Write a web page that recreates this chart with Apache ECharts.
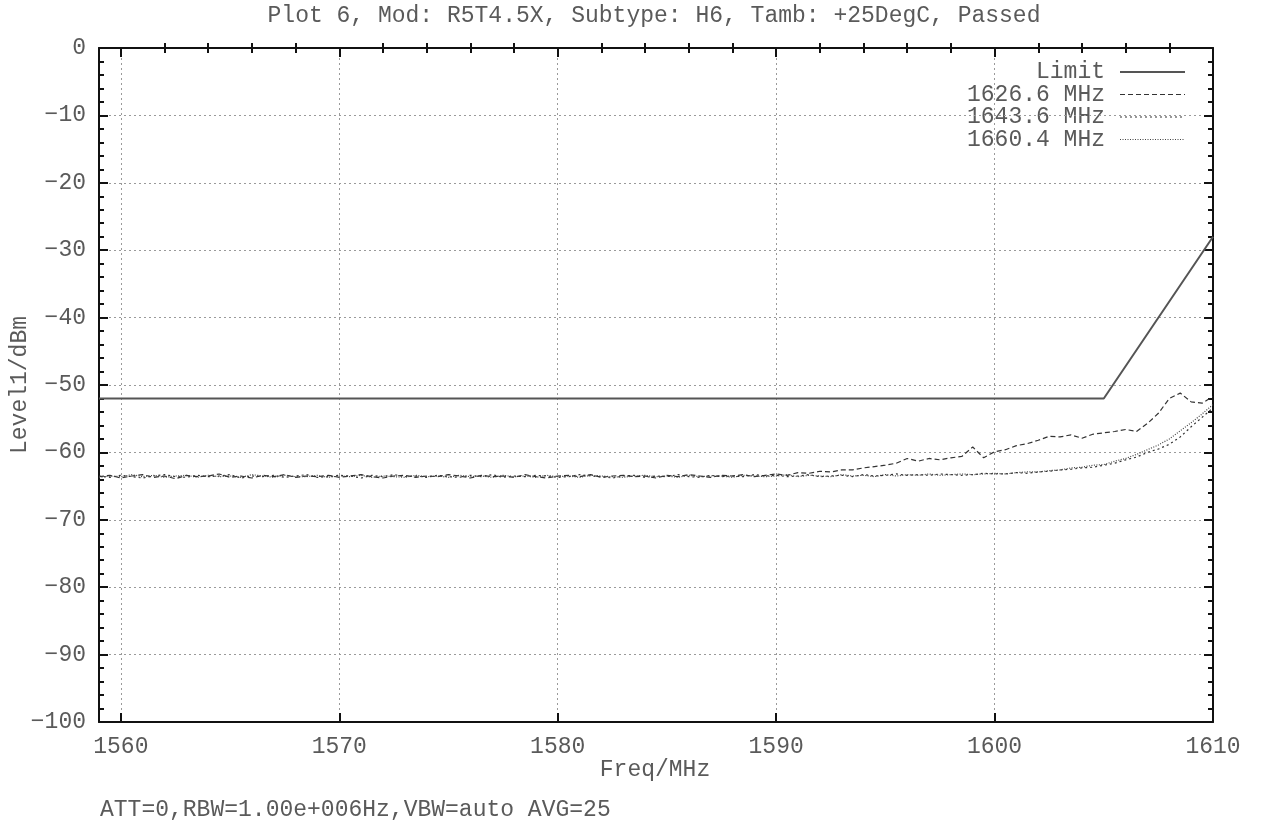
<!DOCTYPE html>
<html>
<head>
<meta charset="utf-8">
<script src="https://cdn.jsdelivr.net/npm/echarts@6/dist/echarts.min.js"></script>
<style>html,body{margin:0;padding:0;background:#fff;}#c{width:1262px;height:827px;}</style>
</head>
<body>
<div id="c"></div>
<script>
const titleText = 'Plot 6, Mod: R5T4.5X, Subtype: H6, Tamb: +25DegC, Passed';
const footText = 'ATT=0,RBW=1.00e+006Hz,VBW=auto AVG=25';
const yName = 'Level1/dBm';
const xName = 'Freq/MHz';
const seriesNames = ['Limit', '1626.6 MHz', '1643.6 MHz', '1660.4 MHz'];
const xMajorTicks = [1560, 1570, 1580, 1590, 1600, 1610];
const xMinorTicks = [1562,1564,1566,1568,1572,1574,1576,1578,1582,1584,1586,1588,1592,1594,1596,1598,1602,1604,1606,1608];
const freqStart = 1559, freqStep = 0.5;
const limitFreq = [1559, 1605, 1610];
const limitLevel = [-52, -52, -28];
const trace1626 = [
-63.6,-63.4,-63.8,-63.5,-63.3,-63.7,-63.5,-63.9,-63.4,-63.6,
-63.5,-63.2,-63.7,-63.5,-63.8,-63.4,-63.6,-63.3,-63.7,-63.5,
-63.6,-63.4,-63.7,-63.5,-63.3,-63.6,-63.8,-63.5,-63.4,-63.7,
-63.5,-63.6,-63.3,-63.5,-63.8,-63.4,-63.6,-63.5,-63.7,-63.3,
-63.6,-63.8,-63.5,-63.4,-63.6,-63.3,-63.7,-63.5,-63.4,-63.6,
-63.5,-63.8,-63.4,-63.6,-63.3,-63.5,-63.7,-63.4,-63.5,-63.3,
-63.6,-63.4,-63.2,-63.4,-63.0,-63.1,-62.8,-62.9,-62.6,-62.6,
-62.3,-62.1,-61.9,-61.6,-60.9,-61.3,-60.9,-61.1,-60.8,-60.6,
-59.2,-60.8,-59.9,-59.6,-59.0,-58.7,-58.2,-57.6,-57.7,-57.4,
-57.9,-57.3,-57.1,-56.9,-56.6,-56.9,-55.7,-54.2,-52.0,-51.2,
-52.5,-52.7,-51.7];
const trace1643 = [
-63.5,-63.7,-63.4,-63.6,-63.8,-63.5,-63.3,-63.6,-63.7,-63.4,
-63.6,-63.5,-63.3,-63.8,-63.5,-63.6,-63.4,-63.7,-63.5,-63.3,
-63.7,-63.6,-63.4,-63.5,-63.8,-63.4,-63.6,-63.3,-63.6,-63.5,
-63.7,-63.4,-63.6,-63.7,-63.4,-63.6,-63.3,-63.7,-63.5,-63.6,
-63.4,-63.5,-63.7,-63.6,-63.3,-63.5,-63.6,-63.8,-63.5,-63.4,
-63.7,-63.5,-63.6,-63.3,-63.6,-63.7,-63.4,-63.6,-63.5,-63.6,
-63.3,-63.5,-63.4,-63.6,-63.5,-63.3,-63.6,-63.5,-63.4,-63.6,
-63.3,-63.5,-63.4,-63.2,-63.4,-63.3,-63.4,-63.2,-63.3,-63.4,
-63.3,-63.1,-63.2,-63.2,-63.0,-63.1,-62.9,-62.8,-62.6,-62.5,
-62.3,-62.2,-61.9,-61.6,-61.1,-60.7,-60.0,-59.5,-58.8,-57.7,
-56.2,-54.8,-53.4];
const trace1660 = [
-63.7,-63.5,-63.6,-63.3,-63.6,-63.4,-63.7,-63.5,-63.4,-63.7,
-63.4,-63.6,-63.5,-63.7,-63.3,-63.5,-63.7,-63.4,-63.6,-63.6,
-63.4,-63.7,-63.5,-63.6,-63.4,-63.7,-63.5,-63.6,-63.7,-63.4,
-63.6,-63.5,-63.7,-63.4,-63.6,-63.5,-63.7,-63.4,-63.6,-63.5,
-63.7,-63.4,-63.6,-63.5,-63.7,-63.4,-63.5,-63.6,-63.7,-63.5,
-63.4,-63.6,-63.5,-63.7,-63.4,-63.6,-63.5,-63.5,-63.7,-63.4,
-63.5,-63.6,-63.5,-63.3,-63.6,-63.4,-63.5,-63.6,-63.3,-63.5,
-63.4,-63.6,-63.3,-63.5,-63.3,-63.4,-63.2,-63.4,-63.3,-63.2,
-63.3,-63.2,-63.1,-63.2,-63.0,-62.9,-62.9,-62.7,-62.6,-62.3,
-62.2,-61.9,-61.8,-61.3,-60.9,-60.3,-59.6,-58.9,-58.0,-56.8,
-55.6,-54.3,-52.9];

function pairs(values) {
  return values.map((v, i) => [freqStart + i * freqStep, v]);
}

const FONT = 'Liberation Mono';
const FS = 23;
const TXT = '#5a5a5a';
const chart = echarts.init(document.getElementById('c'), null, {renderer: 'canvas'});

const baseX = {
  type: 'value', min: 1559, max: 1610, gridIndex: 0,
  axisLine: {show: false}, axisLabel: {show: false}, splitLine: {show: false},
  axisTick: {show: false}
};
const gridLine = {show: true, lineStyle: {color: '#9a9a9a', type: [2, 3], width: 1}};
const dashes = [null, [5, 3], [2, 3], [1, 1.5]];
const colors = ['#555', '#333', '#333', '#444'];
const widths = [2, 1.2, 1.2, 1.2];
const fontStr = FS + 'px "' + FONT + '"';

const option = {
  backgroundColor: '#fff',
  animation: false,
  grid: {left: 99, right: 49, top: 48, bottom: 105, containLabel: false, outerBoundsMode: 'none'},
  xAxis: [
    Object.assign({}, baseX, {
      position: 'bottom',
      axisLine: {show: true, onZero: false, lineStyle: {color: '#111', width: 2}},
      axisTick: {show: true, inside: true, length: 9, customValues: xMajorTicks, lineStyle: {color: '#111', width: 2}},
      axisLabel: {show: true, customValues: xMajorTicks, margin: 13, fontFamily: FONT, fontSize: FS, color: TXT,
        formatter: v => String(v)},
      splitLine: gridLine
    }),
    Object.assign({}, baseX, {
      position: 'bottom',
      axisTick: {show: true, inside: true, length: 5, customValues: xMinorTicks, lineStyle: {color: '#111', width: 2}}
    }),
    Object.assign({}, baseX, {
      position: 'top',
      axisLine: {show: true, onZero: false, lineStyle: {color: '#111', width: 2}},
      axisTick: {show: true, inside: true, length: 9, customValues: xMajorTicks, lineStyle: {color: '#111', width: 2}}
    }),
    Object.assign({}, baseX, {
      position: 'top',
      axisTick: {show: true, inside: true, length: 5, customValues: xMinorTicks, lineStyle: {color: '#111', width: 2}}
    })
  ],
  yAxis: [
    {
      type: 'value', min: -100, max: 0, interval: 10, position: 'left',
      axisLine: {show: true, onZero: false, lineStyle: {color: '#111', width: 2}},
      axisTick: {show: true, inside: true, length: 9, lineStyle: {color: '#111', width: 2}},
      minorTick: {show: true, splitNumber: 5, length: 5, lineStyle: {color: '#111', width: 2}},
      axisLabel: {show: true, margin: 13, fontFamily: FONT, fontSize: FS, color: TXT,
        formatter: v => (v < 0 ? '\u2212' + Math.abs(v) : String(v))},
      splitLine: gridLine
    },
    {
      type: 'value', min: -100, max: 0, interval: 10, position: 'right',
      axisLine: {show: true, onZero: false, lineStyle: {color: '#111', width: 2}},
      axisTick: {show: true, inside: true, length: 9, lineStyle: {color: '#111', width: 2}},
      minorTick: {show: true, splitNumber: 5, length: 5, lineStyle: {color: '#111', width: 2}},
      axisLabel: {show: false}, splitLine: {show: false}
    }
  ],
  series: [
    {name: seriesNames[0], type: 'line', symbol: 'none', data: limitFreq.map((f, i) => [f, limitLevel[i]]),
      lineStyle: {color: colors[0], width: widths[0], type: 'solid'}, z: 3},
    {name: seriesNames[1], type: 'line', symbol: 'none', data: pairs(trace1626),
      lineStyle: {color: colors[1], width: widths[1], type: dashes[1]}},
    {name: seriesNames[2], type: 'line', symbol: 'none', data: pairs(trace1643),
      lineStyle: {color: colors[2], width: widths[2], type: dashes[2]}},
    {name: seriesNames[3], type: 'line', symbol: 'none', data: pairs(trace1660),
      lineStyle: {color: colors[3], width: widths[3], type: dashes[3]}}
  ],
  graphic: [
    {type: 'text', x: 654, y: 16, style: {text: titleText, align: 'center', verticalAlign: 'middle', font: fontStr, fill: TXT}},
    {type: 'text', x: 655, y: 770, style: {text: xName, align: 'center', verticalAlign: 'middle', font: fontStr, fill: TXT}},
    {type: 'text', x: 20, y: 385, rotation: Math.PI / 2, style: {text: yName, align: 'center', verticalAlign: 'middle', font: fontStr, fill: TXT}},
    {type: 'text', x: 100, y: 810, style: {text: footText, font: fontStr, fill: TXT, verticalAlign: 'middle'}}
  ].concat(seriesNames.flatMap((n, i) => ([
    {type: 'text', x: 1105, y: 72 + i * 22.5,
      style: {text: n, align: 'right', verticalAlign: 'middle', font: fontStr, fill: TXT}},
    {type: 'line', x: 0, y: 0, shape: {x1: 1120, y1: 72 + i * 22.5, x2: 1185, y2: 72 + i * 22.5},
      style: {stroke: colors[i], lineWidth: widths[i], lineDash: dashes[i]}}
  ])))
};
chart.setOption(option);
</script>
</body>
</html>
